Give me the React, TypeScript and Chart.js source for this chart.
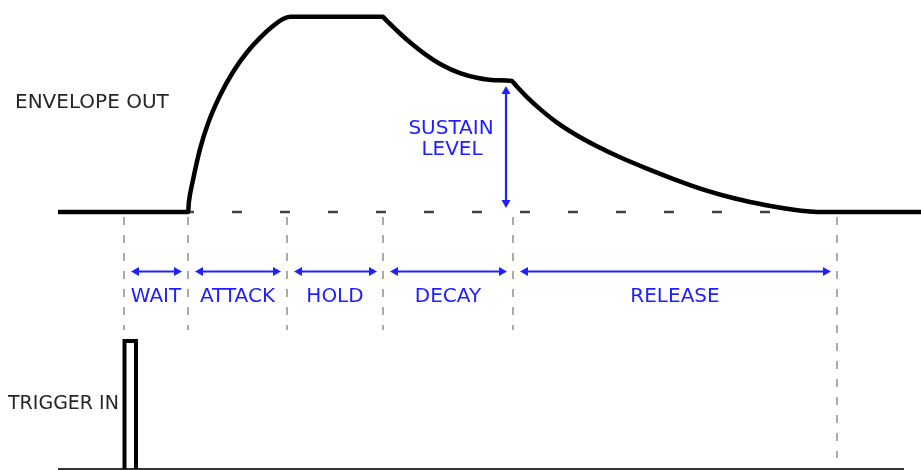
import React, { useEffect, useRef } from 'react';
import { Chart, registerables } from 'chart.js';

Chart.register(...registerables);

// ---- data (time in diagram units, level in % of peak) ----
const phaseNames = ['WAIT', 'ATTACK', 'HOLD', 'DECAY', 'RELEASE'];
const phaseBounds = [124, 188, 287, 383, 513, 837];

const envTime = [
  58, 188, 189, 193, 200, 208, 220, 233, 247, 260, 273, 283, 290,
  383, 384, 390, 400, 412, 426, 442, 460, 478, 495, 512,
  513, 518, 528, 541, 557, 575, 596, 620, 647, 675, 705, 735, 765, 792, 810, 824, 921,
];
const envLevel = [
  0, 0, 5.5, 16.4, 32.2, 45.3, 59.6, 71.7, 81.8, 89.2, 95.2, 98.8, 100,
  100, 99.4, 96.3, 91.4, 86, 80.5, 75.3, 71.1, 68.6, 67.5, 67.1,
  66.5, 63.6, 58.3, 52.3, 45.8, 39.8, 33.9, 28, 22.2, 16.6, 11.2, 6.9, 3.6, 1.3, 0.3, 0, 0,
];
const sustainLevel = 67.1;
const baselineDashTime = [188, 824];

const triggerTime = [124.5, 124.5, 136, 136];
const triggerLevel = [0, 1, 1, 0];
const timeAxisTime = [58, 904];

const signalLabels = ['ENVELOPE OUT', 'TRIGGER IN'];
const sustainLabels = ['SUSTAIN', 'LEVEL'];

// ---- styling ----
const BLUE = '#2020ff';
const TEXT = '#262626';
const FONT = '20px "DejaVu Sans"';
const GUIDE_TOP = -2.6;
const GUIDE_BOTTOM = -60.4;
const GUIDE_BOTTOM_LAST = -126;

function arrow(ctx: CanvasRenderingContext2D, x1: number, y1: number, x2: number, y2: number, head = 8, half = 4.5) {
  const dx = x2 - x1, dy = y2 - y1;
  const len = Math.hypot(dx, dy);
  const ux = dx / len, uy = dy / len;
  ctx.beginPath();
  ctx.moveTo(x1 + ux * head * 0.6, y1 + uy * head * 0.6);
  ctx.lineTo(x2 - ux * head * 0.6, y2 - uy * head * 0.6);
  ctx.stroke();
  const ends: [number, number, number][] = [[x1, y1, 1], [x2, y2, -1]];
  for (const [tx, ty, s] of ends) {
    const bx = tx + s * ux * head, by = ty + s * uy * head;
    ctx.beginPath();
    ctx.moveTo(tx, ty);
    ctx.lineTo(bx - uy * half, by + ux * half);
    ctx.lineTo(bx + uy * half, by - ux * half);
    ctx.closePath();
    ctx.fill();
  }
}

const annotate = {
  id: 'annotate',
  afterDatasetsDraw(chart: any) {
    const { ctx, scales } = chart;
    const x = scales.x, y = scales.y;
    const baseY = y.getPixelForValue(0);
    ctx.save();
    ctx.strokeStyle = BLUE;
    ctx.fillStyle = BLUE;
    ctx.lineWidth = 2.2;
    ctx.setLineDash([]);
    const arrowY = baseY + 59.5;
    ctx.font = FONT;
    ctx.textBaseline = 'alphabetic';
    ctx.textAlign = 'center';
    for (let i = 0; i < phaseNames.length; i++) {
      const a = x.getPixelForValue(phaseBounds[i]);
      const b = x.getPixelForValue(phaseBounds[i + 1]);
      arrow(ctx, a + 7, arrowY, b - 6, arrowY);
      ctx.fillText(phaseNames[i], (a + b) / 2, baseY + 89.5);
    }
    // sustain level arrow
    const sx = x.getPixelForValue(phaseBounds[4]) - 7;
    const sy = y.getPixelForValue(sustainLevel);
    arrow(ctx, sx, sy + 5, sx, baseY - 4);
    ctx.fillText(sustainLabels[0], sx - 55, sy + 53.5);
    ctx.fillText(sustainLabels[1], sx - 54, sy + 74);
    // signal labels
    ctx.fillStyle = TEXT;
    ctx.textAlign = 'left';
    ctx.fillText(signalLabels[0], 15, y.getPixelForValue(50) - 6);
    const ty = scales.yTrig;
    ctx.font = '19px "DejaVu Sans"';
    ctx.fillText(signalLabels[1], 8, ty.getPixelForValue(0.5) + 3.5);
    ctx.restore();
  },
};

export default function App() {
  const ref = useRef<HTMLCanvasElement | null>(null);
  useEffect(() => {
    document.body.style.margin = '0';
    const canvas = ref.current;
    if (!canvas) return;
    const guides = phaseBounds.map((t, i) => ({
      data: [
        { x: t, y: GUIDE_TOP },
        { x: t, y: i === phaseBounds.length - 1 ? GUIDE_BOTTOM_LAST : GUIDE_BOTTOM },
      ],
      borderColor: '#ababab',
      borderWidth: 2,
      borderDash: [8, 10],
      pointRadius: 0,
      yAxisID: 'y',
      order: 5,
    }));
    const chart = new Chart(canvas, {
      type: 'line',
      data: {
        datasets: [
          {
            data: envTime.map((t, i) => ({ x: t, y: envLevel[i] })),
            borderColor: '#000',
            borderWidth: 4.5,
            borderJoinStyle: 'round',
            cubicInterpolationMode: 'monotone',
            pointRadius: 0,
            yAxisID: 'y',
            order: 0,
          },
          {
            data: baselineDashTime.map((t) => ({ x: t, y: 0 })),
            borderColor: '#444',
            borderWidth: 2.5,
            borderDash: [10, 38],
            borderDashOffset: 4,
            pointRadius: 0,
            yAxisID: 'y',
            order: 3,
          },
          {
            data: triggerTime.map((t, i) => ({ x: t, y: triggerLevel[i] })),
            borderColor: '#000',
            borderWidth: 4,
            borderJoinStyle: 'miter',
            pointRadius: 0,
            yAxisID: 'yTrig',
            order: 1,
          },
          {
            data: timeAxisTime.map((t) => ({ x: t, y: 0 })),
            borderColor: '#333',
            borderWidth: 2,
            pointRadius: 0,
            yAxisID: 'yTrig',
            order: 2,
          },
          ...guides,
        ] as any,
      },
      options: {
        animation: false,
        responsive: false,
        events: [],
        layout: { padding: 0 },
        plugins: { legend: { display: false }, tooltip: { enabled: false } },
        scales: {
          x: { type: 'linear', min: 0, max: 921, display: false },
          y: { type: 'linear', min: -132.1, max: 108.55, display: false },
          yTrig: { type: 'linear', min: -1 / 128, max: 469 / 128, display: false },
        },
      },
      plugins: [annotate],
    });
    return () => chart.destroy();
  }, []);
  return (
    <div style={{ width: 921, height: 470 }}>
      <canvas ref={ref} width={921} height={470} style={{ display: 'block' }} />
    </div>
  );
}
